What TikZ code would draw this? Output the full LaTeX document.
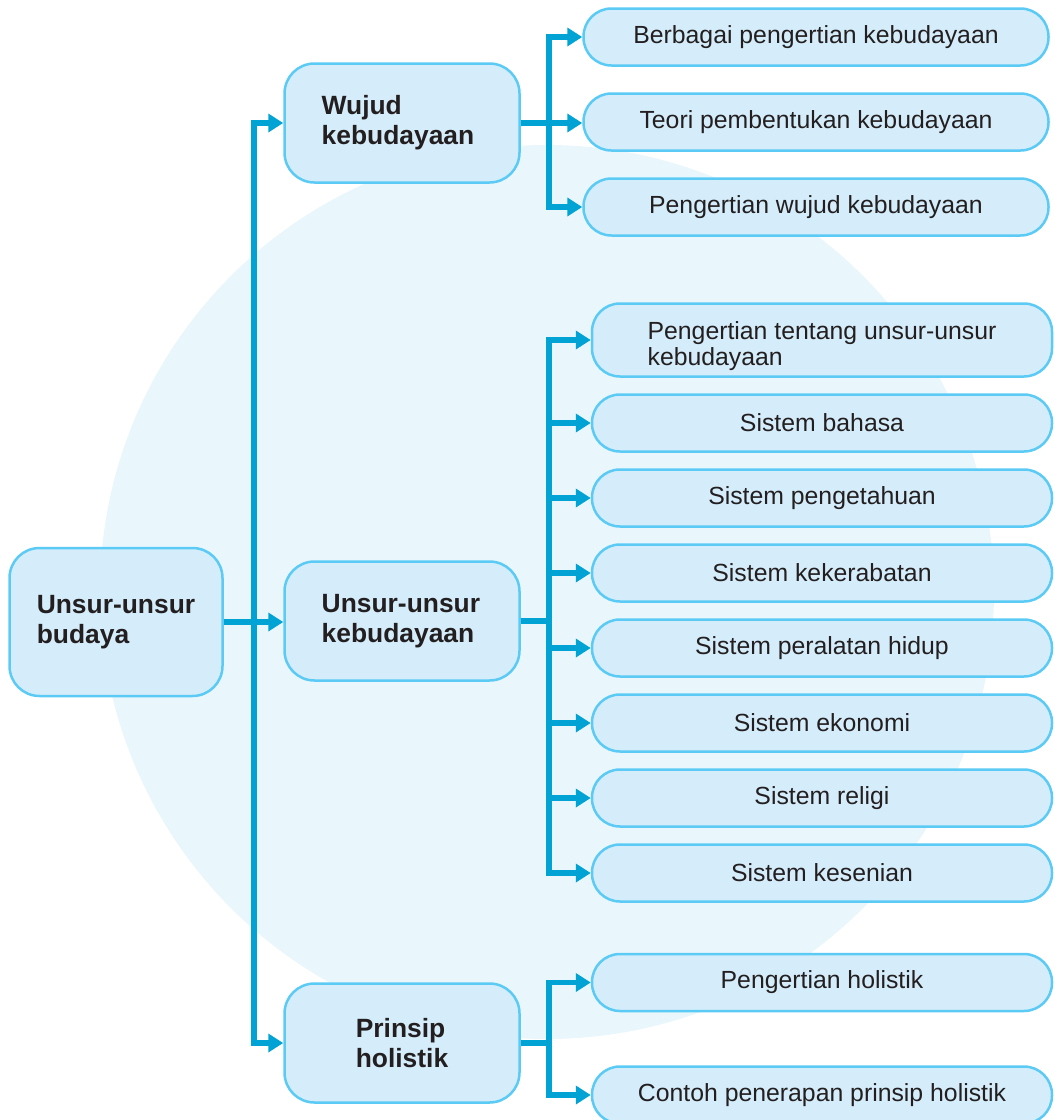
\documentclass[tikz,border=0pt]{standalone}
\usepackage{fontspec}
\setmainfont{Liberation Sans}
\usetikzlibrary{arrows.meta,positioning}
\definecolor{Ink}{HTML}{231F20}
\definecolor{Spot}{HTML}{E9F6FC}
\definecolor{BoxFill}{HTML}{D5EDFA}
\definecolor{BoxLine}{HTML}{5BCBF5}
\definecolor{Wire}{HTML}{00A3D4}
\tikzset{
  topic/.style={
    rounded corners=30pt, draw=BoxLine, line width=2.5pt, fill=BoxFill,
    minimum width=235pt, minimum height=119pt, align=left, inner sep=0pt,
    text=Ink, font=\bfseries\fontsize{26.4}{30}\selectfont
  },
  leaf/.style={
    rounded corners=28pt, draw=BoxLine, line width=2.5pt, fill=BoxFill,
    minimum width=460pt, minimum height=57pt, align=center, inner sep=0pt,
    text=Ink, font=\fontsize{24.8}{26}\selectfont
  },
  link/.style={-{Triangle[length=15pt,width=18pt]}, line width=5.5pt, draw=Wire}
}
\begin{document}
\begin{tikzpicture}[x=1pt,y=-1pt]
    \useasboundingbox (0,0) rectangle (1055,1120);
    \fill[Spot] (547,592) circle[radius=447pt];
    % main topics
    \node[topic,minimum width=213pt,minimum height=148pt] (root) at (116,622) {Unsur-unsur\\budaya};
    \node[topic] (wujud) at (402,123) {Wujud\\kebudayaan\hspace*{8pt}};
    \node[topic] (unsur) at (402,621) {Unsur-unsur\\kebudayaan\hspace*{8pt}};
    \node[topic] (prinsip) at (402,1043) {Prinsip\\holistik};
    % wujud kebudayaan
    \node[leaf,minimum width=465pt] (w1) at (816,37) {Berbagai pengertian kebudayaan};
    \node[leaf,minimum width=465pt,below=25.5pt of w1] (w2) {Teori pembentukan kebudayaan};
    \node[leaf,minimum width=465pt,below=25.5pt of w2] (w3) {Pengertian wujud kebudayaan};
    % unsur-unsur kebudayaan
    \node[leaf,minimum height=73pt,align=left,text height=56pt] (u1) at (822,340) {Pengertian tentang unsur-unsur\\kebudayaan};
    \node[leaf,below=15.5pt of u1] (u2) {Sistem bahasa};
    \node[leaf,below=15.5pt of u2] (u3) {Sistem pengetahuan};
    \node[leaf,below=15.5pt of u3] (u4) {Sistem kekerabatan};
    \node[leaf,below=15.5pt of u4] (u5) {Sistem peralatan hidup};
    \node[leaf,below=15.5pt of u5] (u6) {Sistem ekonomi};
    \node[leaf,below=15.5pt of u6] (u7) {Sistem religi};
    \node[leaf,below=15.5pt of u7] (u8) {Sistem kesenian};
    % prinsip holistik
    \node[leaf] (p1) at (822,982.5) {Pengertian holistik};
    \node[leaf,below=53pt of p1] (p2) {Contoh penerapan prinsip holistik};
    % connectors
    \draw[link] (root.east) -- (root.east -| unsur.west);
    \draw[link] (root.east) -- ++(30,0) |- (wujud.west);
    \draw[link] (root.east) -- ++(30,0) |- (prinsip.west);
    \draw[link] (wujud.east) -- ++(28,0) |- (w1.west);
    \draw[link] (wujud.east) -- (wujud.east -| w2.west);
    \draw[link] (wujud.east) -- ++(28,0) |- (w3.west);
    \draw[link] (unsur.east) -- ++(28,0) |- (u1.west);
    \draw[link] (unsur.east) -- ++(28,0) |- (u2.west);
    \draw[link] (unsur.east) -- ++(28,0) |- (u3.west);
    \draw[link] (unsur.east) -- ++(28,0) |- (u4.west);
    \draw[link] (unsur.east) -- ++(28,0) |- (u5.west);
    \draw[link] (unsur.east) -- ++(28,0) |- (u6.west);
    \draw[link] (unsur.east) -- ++(28,0) |- (u7.west);
    \draw[link] (unsur.east) -- ++(28,0) |- (u8.west);
    \draw[link] (prinsip.east) -- ++(28,0) |- (p1.west);
    \draw[link] (prinsip.east) -- ++(28,0) |- (p2.west);
\end{tikzpicture}
\end{document}
